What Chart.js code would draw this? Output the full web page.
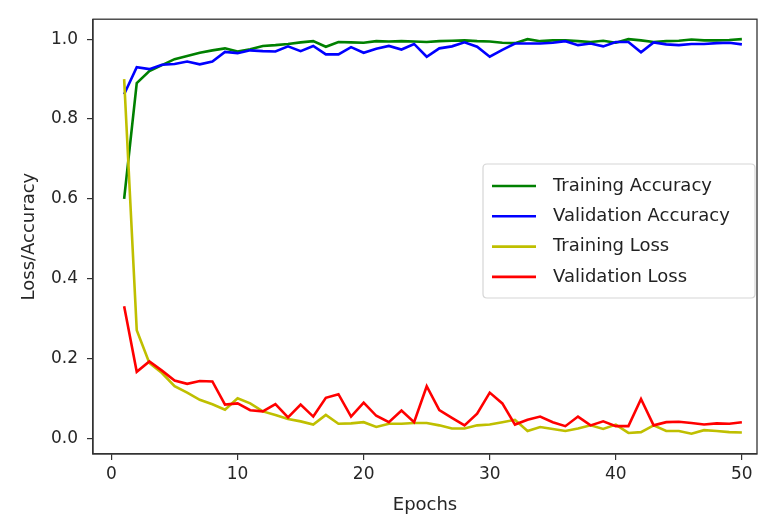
<!DOCTYPE html>
<html>
<head>
<meta charset="utf-8">
<script src="https://cdn.jsdelivr.net/npm/chart.js@4/dist/chart.umd.min.js"></script>
<style>
  html, body { margin: 0; padding: 0; background: #ffffff; }
  #wrap { width: 760px; height: 518px; }
</style>
</head>
<body>
<div id="wrap"><canvas id="c" width="760" height="518"></canvas></div>
<script>
const epochs = Array.from({length: 50}, (_, i) => i + 1);
const trainAcc = [0.60,0.89,0.92,0.935,0.950,0.958,0.966,0.972,0.977,0.969,
  0.975,0.983,0.985,0.988,0.992,0.995,0.981,0.993,0.992,0.991,
  0.995,0.994,0.995,0.994,0.993,0.995,0.996,0.997,0.995,0.994,
  0.991,0.990,1.0,0.995,0.997,0.997,0.995,0.993,0.996,0.991,
  1.0,0.997,0.993,0.995,0.996,0.999,0.997,0.997,0.998,1.0];
const valAcc = [0.862,0.930,0.925,0.936,0.938,0.944,0.937,0.944,0.968,0.965,
  0.972,0.970,0.969,0.982,0.970,0.983,0.962,0.962,0.980,0.966,
  0.976,0.983,0.974,0.988,0.956,0.977,0.982,0.992,0.981,0.956,
  0.973,0.989,0.989,0.989,0.991,0.995,0.985,0.989,0.982,0.993,
  0.993,0.967,0.992,0.987,0.985,0.988,0.988,0.990,0.991,0.987];
const trainLoss = [0.90,0.271,0.189,0.164,0.131,0.115,0.097,0.086,0.072,0.101,
  0.088,0.068,0.059,0.049,0.043,0.035,0.059,0.037,0.038,0.041,
  0.029,0.037,0.037,0.039,0.039,0.033,0.025,0.025,0.033,0.035,
  0.041,0.047,0.019,0.029,0.024,0.019,0.025,0.033,0.024,0.035,
  0.014,0.016,0.033,0.019,0.019,0.012,0.021,0.019,0.016,0.015];
const valLoss = [0.331,0.167,0.193,0.170,0.145,0.137,0.144,0.143,0.085,0.088,
  0.071,0.068,0.086,0.053,0.085,0.055,0.102,0.111,0.055,0.090,
  0.057,0.041,0.070,0.041,0.131,0.071,0.052,0.033,0.062,0.115,
  0.088,0.035,0.047,0.055,0.041,0.031,0.055,0.033,0.043,0.031,
  0.031,0.099,0.033,0.041,0.042,0.039,0.035,0.038,0.037,0.041];
const seriesNames = ['Training Accuracy','Validation Accuracy','Training Loss','Validation Loss'];
const xTicks = [0,10,20,30,40,50];
const yTicks = [0.0,0.2,0.4,0.6,0.8,1.0];
const xLabel = 'Epochs';
const yLabel = 'Loss/Accuracy';

const colors = ['#008000','#0000ff','#bfbf00','#ff0000'];
const allSeries = [trainAcc, valAcc, trainLoss, valLoss];
const FONT = 'DejaVu Sans';

const datasets = allSeries.map((s, i) => ({
  label: seriesNames[i],
  data: epochs.map((e, j) => ({x: e, y: s[j]})),
  borderColor: colors[i],
  backgroundColor: colors[i],
  borderWidth: 2.6,
  pointRadius: 0,
  tension: 0,
  fill: false,
  order: 4 - i
}));

const framePlugin = {
  id: 'frame',
  afterDatasetsDraw(chart) {
    const {ctx, chartArea: a} = chart;
    ctx.save();
    ctx.strokeStyle = '#333333';
    ctx.lineWidth = 1.3;
    ctx.strokeRect(a.left, a.top, a.right - a.left, a.bottom - a.top);
    ctx.restore();
  }
};

const legendPlugin = {
  id: 'mplLegend',
  afterDraw(chart) {
    const ctx = chart.ctx;
    const bx = 483, by = 164, bw = 272, bh = 134, r = 4;
    ctx.save();
    ctx.fillStyle = 'rgba(255,255,255,0.85)';
    ctx.strokeStyle = '#d6d6d6';
    ctx.lineWidth = 1.2;
    ctx.beginPath();
    ctx.moveTo(bx + r, by);
    ctx.lineTo(bx + bw - r, by);
    ctx.quadraticCurveTo(bx + bw, by, bx + bw, by + r);
    ctx.lineTo(bx + bw, by + bh - r);
    ctx.quadraticCurveTo(bx + bw, by + bh, bx + bw - r, by + bh);
    ctx.lineTo(bx + r, by + bh);
    ctx.quadraticCurveTo(bx, by + bh, bx, by + bh - r);
    ctx.lineTo(bx, by + r);
    ctx.quadraticCurveTo(bx, by, bx + r, by);
    ctx.closePath();
    ctx.fill();
    ctx.stroke();
    ctx.font = '18px "' + FONT + '"';
    ctx.textBaseline = 'middle';
    ctx.fillStyle = '#222222';
    seriesNames.forEach((name, i) => {
      const y = 186 + i * 30.3;
      ctx.strokeStyle = colors[i];
      ctx.lineWidth = 2.6;
      ctx.beginPath();
      ctx.moveTo(492, y);
      ctx.lineTo(536, y);
      ctx.stroke();
      ctx.fillText(name, 553, y);
    });
    ctx.restore();
  }
};

new Chart(document.getElementById('c'), {
  type: 'line',
  data: { datasets },
  options: {
    responsive: false,
    animation: false,
    layout: { padding: { top: 12, right: 3, left: 0, bottom: 0 } },
    plugins: { legend: { display: false }, tooltip: { enabled: false } },
    scales: {
      x: {
        type: 'linear',
        min: -1.47,
        max: 51.2,
        afterBuildTicks: s => { s.ticks = xTicks.map(v => ({value: v})); },
        afterFit: s => { s.height = 64; },
        grid: { display: true, drawOnChartArea: false, drawTicks: true, tickLength: 6, color: '#333333', lineWidth: 1.2 },
        border: { display: true, color: '#333333', width: 1.3 },
        ticks: { color: '#262626', font: { family: FONT, size: 17 }, padding: 4, maxRotation: 0, autoSkip: false },
        title: { display: true, text: xLabel, color: '#262626', font: { family: FONT, size: 18 }, padding: { top: 0, bottom: 2 } }
      },
      y: {
        type: 'linear',
        min: -0.0387,
        max: 1.05,
        afterBuildTicks: s => { s.ticks = yTicks.map(v => ({value: v})); },
        afterFit: s => { s.width = 93; },
        grid: { display: true, drawOnChartArea: false, drawTicks: true, tickLength: 6, color: '#333333', lineWidth: 1.2 },
        border: { display: true, color: '#333333', width: 1.3 },
        ticks: { color: '#262626', font: { family: FONT, size: 17 }, padding: 9, callback: v => v.toFixed(1) },
        title: { display: true, text: yLabel, color: '#262626', font: { family: FONT, size: 18 }, padding: { top: 19, bottom: 0 } }
      }
    }
  },
  plugins: [framePlugin, legendPlugin]
});
</script>
</body>
</html>
